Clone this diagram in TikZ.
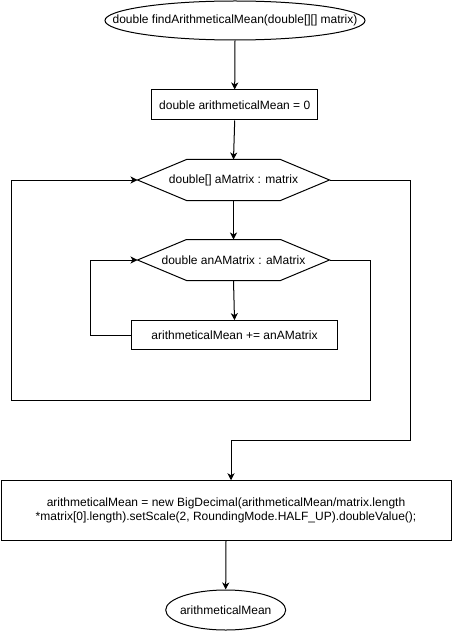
\documentclass[tikz,border=0pt]{standalone}
\usepackage{fontspec}
\setmainfont{Liberation Sans}
\usetikzlibrary{arrows.meta}
\begin{document}
\begin{tikzpicture}[x=1pt,y=-1pt,
  font=\fontsize{12pt}{14.5pt}\selectfont,
  every path/.style={line width=1pt},
  flow/.style={draw, -{Stealth[length=7pt,width=7pt,inset=2pt]}},
  plain/.style={draw},
  stepbox/.style={draw, rectangle, inner sep=0pt, align=center},
  loopbox/.style={rectangle, inner sep=0pt, minimum width=191pt, minimum height=40pt},
  ovalbox/.style={rectangle, inner sep=0pt}]
  \useasboundingbox (0,0) rectangle (452,631);

  % start and end ovals (text node with an ellipse drawn around it)
  \node[ovalbox, minimum width=260pt, minimum height=39pt] (start) at (235,20.5)
    {double findArithmeticalMean(double[][] matrix)};
  \draw (start.center) ellipse [x radius=130pt, y radius=19.5pt];

  \node[stepbox, minimum width=166pt, minimum height=30pt] (init) at (234.7,105)
    {double arithmeticalMean = 0};

  % loop headers drawn as hexagons
  \node[loopbox] (outer) at (233.5,180) {double[] aMatrix : matrix};
  \node[loopbox] (inner) at (233.5,260) {double anAMatrix : aMatrix};
  \foreach \h in {outer,inner}{
    \draw (\h.west) -- ([xshift=49pt]\h.north west) -- ([xshift=-49pt]\h.north east)
      -- (\h.east) -- ([xshift=-49pt]\h.south east) -- ([xshift=49pt]\h.south west) -- cycle;
  }

  \node[stepbox, minimum width=205.6pt, minimum height=29.3pt] (acc) at (234.5,335.3)
    {arithmeticalMean += anAMatrix};

  \node[stepbox, minimum width=450pt, minimum height=59.5pt] (result) at (226,510.5)
    {arithmeticalMean = new BigDecimal(arithmeticalMean/matrix.length\\
     *matrix[0].length).setScale(2, RoundingMode.HALF\_UP).doubleValue();};

  \node[ovalbox, minimum width=120pt, minimum height=40pt] (finish) at (225.7,610)
    {arithmeticalMean};
  \draw (finish.center) ellipse [x radius=60pt, y radius=20pt];

  % bend points of the loop connectors
  \coordinate (innerBack) at (90.7,260);
  \coordinate (innerExitCorner) at (370,400);
  \coordinate (innerExitLeft) at (11,400);
  \coordinate (outerExitCorner) at (410,440);
  \coordinate (outerExitLeft) at (231,440);

  % straight flow
  \draw[flow] (start.south) -- (init.north);
  \draw[flow] (init.south) -- (outer.north);
  \draw[flow] (outer.south) -- (inner.north);
  \draw[flow] (inner.south) -- (acc.north);
  \draw[flow] (result.south) -- (finish.north);

  % inner loop returns to its header
  \draw[flow] (acc.west) -| (innerBack) -- (inner.west);
  % inner loop exit returns to the outer header
  \draw[flow] (inner.east) -| (innerExitCorner) -- (innerExitLeft) |- (outer.west);
  % outer loop exit continues to the result
  \draw[flow] (outer.east) -| (outerExitCorner) -- (outerExitLeft) -- (outerExitLeft |- result.north);
\end{tikzpicture}
\end{document}
